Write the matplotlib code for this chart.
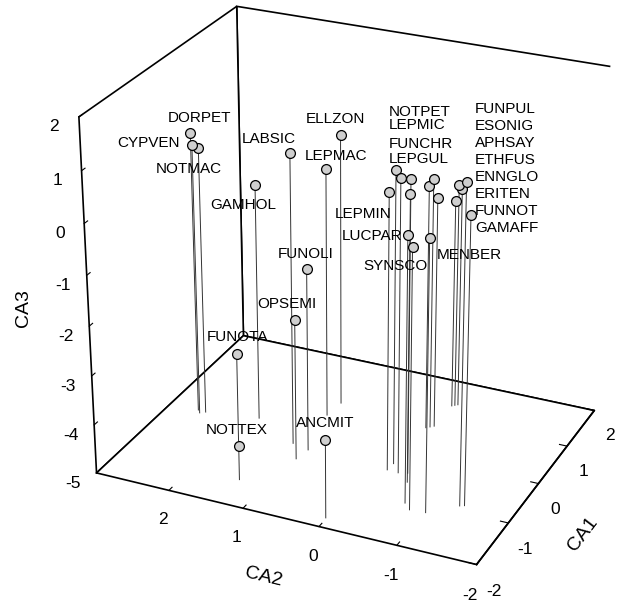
import numpy as np
import matplotlib.pyplot as plt
from mpl_toolkits.mplot3d import proj3d

plt.rcParams['font.family'] = ['Liberation Sans', 'DejaVu Sans']
plt.rcParams['axes.unicode_minus'] = False

# species codes and their CA scores
species = ['DORPET', 'CYPVEN', 'NOTMAC', 'LABSIC', 'GAMHOL', 'FUNOLI', 'OPSEMI',
           'FUNOTA', 'NOTTEX', 'ANCMIT', 'ELLZON', 'LEPMAC',
           'NOTPET', 'LEPMIC', 'FUNCHR', 'LEPGUL', 'LEPMIN', 'LUCPAR', 'SYNSCO', 'MENBER',
           'FUNPUL', 'ESONIG', 'APHSAY', 'ETHFUS', 'ENNGLO', 'ERITEN', 'FUNNOT', 'GAMAFF']
ca1 = [-0.08, -0.14, -0.09, -0.35, 0.05, -0.42, -0.68,
       -0.57, -1.42, -1.79, 0.84, 0.48,
       -0.29, -0.47, -0.43, -0.63, -0.46, -1.09, -1.21, -1.19,
       0.74, 0.70, 0.78, -0.88, -0.85, 1.39, 1.42, 1.36]
ca2 = [2.60, 2.55, 2.49, 1.13, 1.80, 0.89, 0.93,
       1.78, 1.34, 0.01, 1.02, 1.05,
       -0.21, -0.35, -0.46, -0.54, -0.20, -0.71, -0.82, -1.02,
       -0.26, -0.22, -0.30, -1.33, -1.38, -0.33, -0.36, -0.30]
ca3 = [0.70, 0.51, 0.45, 0.86, -0.17, -1.28, -2.13,
       -3.19, -4.30, -3.43, 0.56, 0.08,
       0.86, 0.87, 0.85, 0.71, 0.55, 0.27, 0.16, 0.38,
       0.09, -0.03, -0.30, 1.31, 0.70, -0.40, -0.50, -0.71]

# label placement: anchor marker, offset from it in pixels, alignment
label_anchor = list(range(12)) + [12] * 4 + [16, 17, 18, 19] + [20] * 8
label_offsets = [(9, 15), (-43, 2), (-9, -21), (-21, 14), (-12, -20), (-1, 15), (-8, 16),
                 (1, 17), (-2, 16), (0, 17), (-5, 16), (10, 13),
                 (-7, 58), (-7, 45), (-7, 26), (-7, 11),
                 (-26, -22), (-36, -1), (-17, -19), (40, -17),
                 (41, 70), (41, 53), (41, 36), (41, 19), (41, 2), (41, -15), (41, -32), (41, -49)]
label_ha = ['center'] * 12 + ['left'] * 4 + ['center'] * 4 + ['left'] * 8

fig = plt.figure(figsize=(6.23, 6.02), dpi=100)
ax = fig.add_axes([0.05, 0.035, 1, 1], projection='3d', proj_type='persp', focal_length=0.8)
ax.view_init(elev=26, azim=-155.5)
ax.set_box_aspect((4, 5, 4.7), zoom=1.06)
ax.set_xlim(-2, 2)
ax.set_ylim(-2, 3)
ax.set_zlim(-5, 2)

for axis in (ax.xaxis, ax.yaxis, ax.zaxis):
    axis.set_pane_color((1, 1, 1, 1))
    axis.pane.set_edgecolor('black')
    axis.pane.set_linewidth(1.2)
    axis.line.set_color('black')
    axis.line.set_linewidth(1.2)
    axis._axinfo['tick']['inward_factor'] = 0.0
    axis._axinfo['tick']['outward_factor'] = 0.25
ax.xaxis.set_rotate_label(True)
ax.yaxis.set_rotate_label(True)
ax.zaxis.set_rotate_label(False)
ax.grid(False)

ax.set_xticks([-2, -1, 0, 1, 2])
ax.set_yticks([-2, -1, 0, 1, 2])
ax.set_zticks(range(-5, 3))
ax.tick_params(labelsize=12.5, pad=2)
ax.set_xlabel('CA1', fontsize=14, labelpad=6)
ax.set_ylabel('CA2', fontsize=14, labelpad=6)
ax.set_zlabel('CA3', fontsize=14, labelpad=6, rotation=90)

zfloor = -5
for x, y, z in zip(ca1, ca2, ca3):
    ax.plot([x, x], [y, y], [z, zfloor], color='#333333', lw=0.7)
ax.scatter(ca1, ca2, ca3, s=50, c='#cfcfcf', edgecolors='black', linewidths=0.9,
           depthshade=False)

fig.canvas.draw()
M = ax.get_proj()
px, py, _ = proj3d.proj_transform(np.array(ca1), np.array(ca2), np.array(ca3), M)
for name, k, (dx, dy), ha in zip(species, label_anchor, label_offsets, label_ha):
    ax.annotate(name, xy=(px[k], py[k]), xytext=(dx, dy), textcoords='offset pixels',
                ha=ha, va='center', fontsize=11)

fig.savefig('out.png', dpi=100)
